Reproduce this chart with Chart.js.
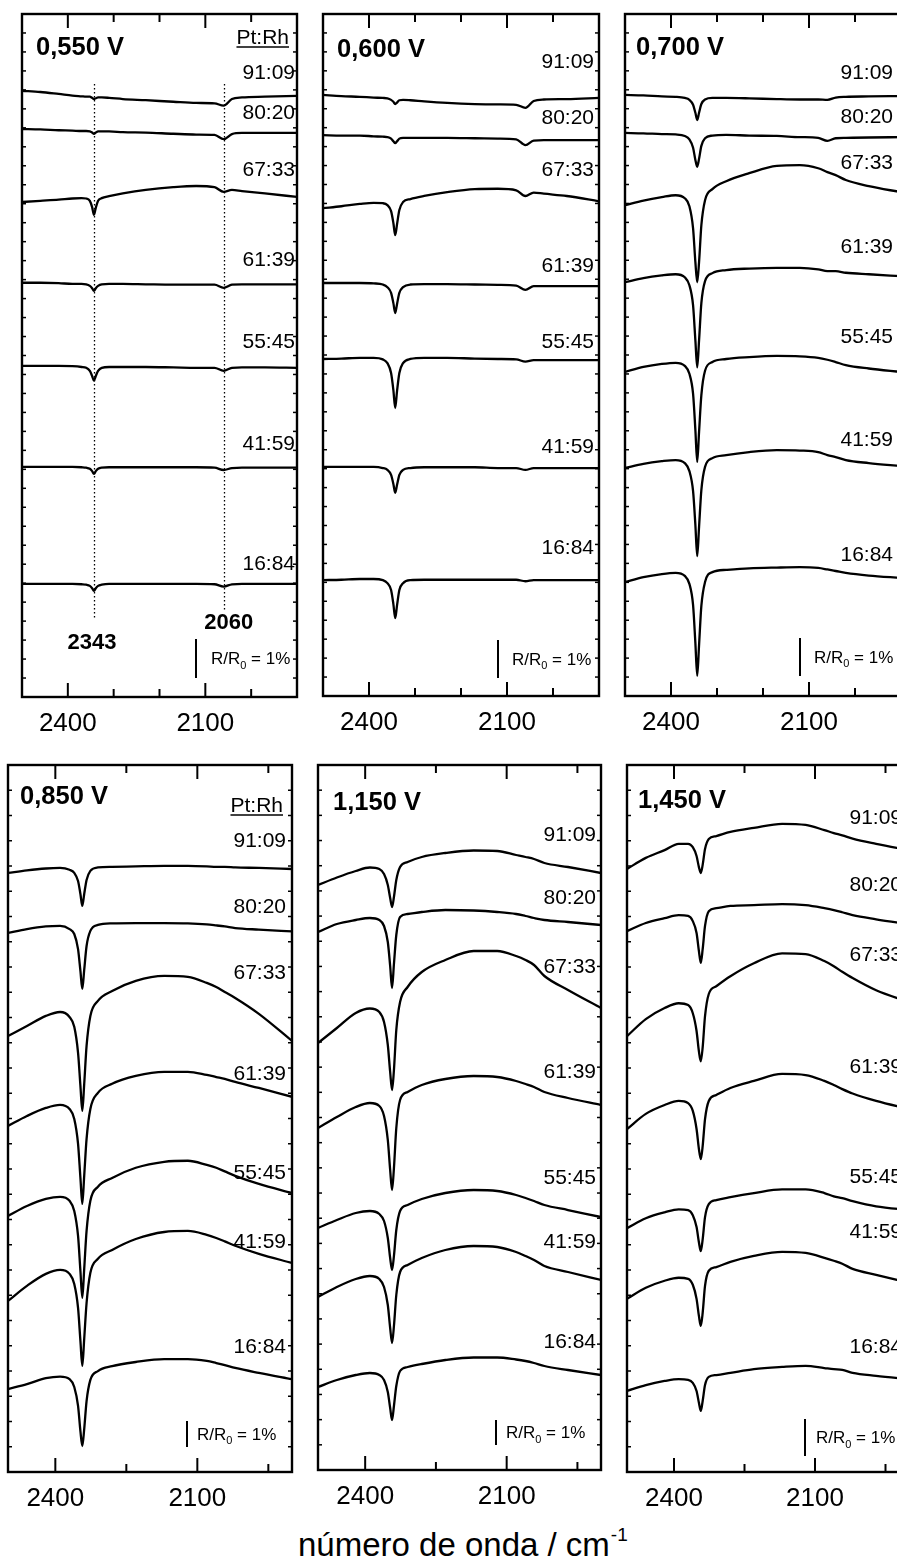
<!DOCTYPE html>
<html lang="pt">
<head>
<meta charset="utf-8">
<title>Espectros FTIR in situ - Pt:Rh</title>
<script src="https://cdn.jsdelivr.net/npm/chart.js@4.4.1/dist/chart.umd.min.js"></script>
<style>
  html, body { margin: 0; padding: 0; background: #fff; }
  body { width: 897px; height: 1559px; overflow: hidden; position: relative;
         font-family: "Liberation Sans", Arial, sans-serif; color: #000; }
  canvas.panel { position: absolute; }
  #xtitle { position: absolute; left: 298px; top: 1528px; font-size: 33px; line-height: 1; white-space: nowrap; }
  #xtitle sup { font-size: 19px; vertical-align: top; position: relative; top: -3px; margin-left: 1px; }
</style>
</head>
<body>
<div id="xtitle">número de onda / cm<sup>-1</sup></div>
<script>
// wavenumber grid shared by every spectrum (cm-1)
const wavenumbers = [2500, 2460, 2420, 2390, 2370, 2360, 2352, 2347, 2343, 2339, 2334, 2326,
                     2310, 2280, 2230, 2170, 2120, 2080, 2060, 2042, 2020, 1970, 1900];
const compositions = ["91:09", "80:20", "67:33", "61:39", "55:45", "41:59", "16:84"];
const potentials = ["0,550 V", "0,600 V", "0,700 V", "0,850 V", "1,150 V", "1,450 V"];
const majorTicks = [2400, 2100];

// stacking offset of each spectrum (R/R0 in %), and the spectrum itself relative to it
const offsets550 = [15.54, 14.56, 12.69, 10.62, 8.49, 5.90, 2.90];
const spectra550 = [
  [0, -0.03, -0.08, -0.12, -0.14, -0.15, -0.15, -0.18, -0.21, -0.19, -0.17, -0.17, -0.18, -0.21, -0.24, -0.28, -0.31, -0.32, -0.38, -0.21, -0.17, -0.15, -0.13],
  [0, -0.01, -0.03, -0.04, -0.05, -0.05, -0.06, -0.09, -0.12, -0.09, -0.06, -0.06, -0.06, -0.08, -0.09, -0.12, -0.14, -0.15, -0.26, -0.13, -0.10, -0.10, -0.10],
  [0, 0.03, 0.06, 0.09, 0.10, 0.09, 0.03, -0.13, -0.33, -0.15, 0.03, 0.10, 0.15, 0.22, 0.31, 0.38, 0.41, 0.38, 0.26, 0.31, 0.28, 0.22, 0.13],
  [0, 0, -0.01, -0.03, -0.03, -0.04, -0.08, -0.14, -0.21, -0.14, -0.08, -0.04, -0.03, -0.03, -0.04, -0.05, -0.05, -0.05, -0.13, -0.05, -0.04, -0.04, -0.04],
  [0, 0, 0, -0.01, -0.03, -0.05, -0.13, -0.26, -0.38, -0.26, -0.13, -0.05, -0.03, -0.03, -0.03, -0.04, -0.05, -0.05, -0.13, -0.05, -0.04, -0.04, -0.05],
  [0, 0, 0, 0, -0.01, -0.02, -0.05, -0.11, -0.18, -0.11, -0.05, -0.02, -0.01, -0.01, -0.01, -0.01, -0.01, -0.02, -0.08, -0.03, -0.02, -0.02, -0.02],
  [0, 0, 0, 0, -0.01, -0.02, -0.05, -0.11, -0.18, -0.11, -0.05, -0.02, 0, 0, 0, 0, 0, -0.01, -0.07, -0.01, 0, 0, 0]
];

const offsets600 = [15.82, 14.76, 12.84, 10.87, 8.87, 6.03, 3.05];
const spectra600 = [
  [0, -0.03, -0.05, -0.07, -0.08, -0.09, -0.13, -0.18, -0.24, -0.20, -0.14, -0.13, -0.14, -0.17, -0.21, -0.24, -0.25, -0.26, -0.34, -0.16, -0.12, -0.11, -0.08],
  [0, -0.01, -0.01, -0.03, -0.04, -0.05, -0.09, -0.16, -0.21, -0.16, -0.09, -0.07, -0.07, -0.07, -0.07, -0.08, -0.09, -0.11, -0.26, -0.14, -0.13, -0.13, -0.13],
  [0, 0.05, 0.11, 0.14, 0.13, 0.08, -0.08, -0.39, -0.71, -0.42, -0.05, 0.16, 0.24, 0.32, 0.42, 0.50, 0.51, 0.47, 0.32, 0.41, 0.38, 0.32, 0.18],
  [0, 0, 0, -0.01, -0.04, -0.11, -0.26, -0.53, -0.79, -0.55, -0.26, -0.11, -0.04, -0.03, -0.03, -0.04, -0.05, -0.07, -0.18, -0.08, -0.08, -0.08, -0.08],
  [0, 0.01, 0.03, 0.03, -0.01, -0.11, -0.37, -0.82, -1.29, -0.84, -0.37, -0.11, 0, 0.03, 0.03, 0.01, 0, -0.01, -0.07, -0.03, -0.03, -0.03, -0.03],
  [0, 0, 0, 0, -0.03, -0.08, -0.21, -0.45, -0.68, -0.47, -0.21, -0.08, -0.03, -0.01, -0.01, -0.01, -0.03, -0.03, -0.08, -0.03, -0.03, -0.03, -0.03],
  [0, 0.01, 0.03, 0.03, 0, -0.08, -0.26, -0.63, -1.00, -0.66, -0.26, -0.08, 0, 0.01, 0.01, 0.01, 0.01, 0.01, -0.03, 0, 0, 0, 0]
];

const offsets700 = [15.82, 14.82, 12.92, 10.89, 8.53, 6.00, 3.00];
const spectra700 = [
  [0, -0.01, -0.04, -0.05, -0.08, -0.13, -0.26, -0.47, -0.66, -0.47, -0.24, -0.12, -0.08, -0.08, -0.09, -0.11, -0.12, -0.12, -0.13, -0.07, -0.05, -0.04, -0.03],
  [0, -0.01, -0.03, -0.04, -0.08, -0.17, -0.39, -0.71, -0.89, -0.68, -0.34, -0.14, -0.07, -0.05, -0.07, -0.08, -0.11, -0.13, -0.21, -0.14, -0.13, -0.12, -0.11],
  [0, 0.12, 0.21, 0.26, 0.18, -0.03, -0.61, -1.50, -2.03, -1.50, -0.53, 0.13, 0.42, 0.63, 0.84, 1.03, 1.05, 0.97, 0.87, 0.79, 0.66, 0.50, 0.34],
  [0, 0.11, 0.18, 0.21, 0.13, -0.08, -0.61, -1.53, -2.24, -1.53, -0.55, 0.03, 0.24, 0.32, 0.36, 0.38, 0.38, 0.34, 0.29, 0.29, 0.25, 0.21, 0.16],
  [0, 0.13, 0.21, 0.24, 0.16, -0.05, -0.58, -1.53, -2.37, -1.58, -0.61, 0.03, 0.26, 0.34, 0.39, 0.42, 0.41, 0.37, 0.32, 0.26, 0.18, 0.09, 0],
  [0, 0.11, 0.18, 0.21, 0.13, -0.08, -0.61, -1.50, -2.32, -1.55, -0.58, 0.03, 0.26, 0.34, 0.42, 0.47, 0.46, 0.42, 0.34, 0.29, 0.21, 0.13, 0.05],
  [0, 0.13, 0.21, 0.24, 0.16, -0.05, -0.61, -1.61, -2.47, -1.66, -0.63, 0, 0.26, 0.32, 0.36, 0.38, 0.39, 0.37, 0.33, 0.29, 0.24, 0.17, 0.11]
];

const offsets850 = [23.04, 20.73, 16.77, 13.31, 9.85, 6.58, 3.19];
const spectra850 = [
  [0, 0.10, 0.17, 0.19, 0.12, 0, -0.31, -0.81, -1.27, -0.81, -0.27, 0.08, 0.21, 0.23, 0.25, 0.27, 0.27, 0.25, 0.23, 0.23, 0.21, 0.19, 0.15],
  [0, 0.15, 0.25, 0.27, 0.15, -0.04, -0.62, -1.46, -2.15, -1.42, -0.50, 0.08, 0.31, 0.37, 0.38, 0.38, 0.37, 0.33, 0.29, 0.25, 0.19, 0.13, 0.06],
  [0, 0.38, 0.77, 0.92, 0.73, 0.35, -0.65, -1.92, -2.88, -1.85, -0.38, 0.77, 1.35, 1.73, 2.12, 2.31, 2.27, 2.04, 1.88, 1.69, 1.46, 0.85, -0.19],
  [0, 0.38, 0.69, 0.81, 0.65, 0.27, -0.69, -2.00, -3.00, -1.92, -0.50, 0.65, 1.27, 1.62, 1.92, 2.08, 2.08, 1.96, 1.88, 1.81, 1.69, 1.46, 1.12],
  [0, 0.38, 0.65, 0.73, 0.58, 0.19, -0.77, -2.12, -3.15, -2.04, -0.58, 0.58, 1.12, 1.46, 1.85, 2.08, 2.12, 1.96, 1.85, 1.71, 1.54, 1.23, 0.88],
  [0, 0.58, 1.04, 1.19, 1.04, 0.65, -0.27, -1.54, -2.50, -1.46, -0.08, 1.08, 1.62, 1.96, 2.38, 2.65, 2.69, 2.54, 2.42, 2.29, 2.12, 1.81, 1.46],
  [0, 0.19, 0.42, 0.48, 0.38, 0.08, -0.65, -1.62, -2.19, -1.54, -0.46, 0.35, 0.69, 0.88, 1.04, 1.15, 1.15, 1.08, 1.00, 0.92, 0.81, 0.62, 0.38]
];

const offsets1150 = [23.40, 21.52, 17.08, 13.68, 9.68, 6.92, 3.32];
const spectra1150 = [
  [0, 0.30, 0.56, 0.70, 0.64, 0.44, 0, -0.52, -0.88, -0.48, 0.20, 0.72, 0.92, 1.12, 1.28, 1.38, 1.36, 1.20, 1.12, 1.04, 0.88, 0.72, 0.48],
  [0, 0.32, 0.48, 0.56, 0.48, 0.24, -0.40, -1.36, -2.24, -1.28, -0.12, 0.60, 0.72, 0.80, 0.88, 0.86, 0.80, 0.72, 0.64, 0.56, 0.48, 0.40, 0.28],
  [0, 0.60, 1.20, 1.38, 1.24, 0.84, -0.08, -1.16, -1.88, -1.08, 0.52, 1.64, 2.24, 2.84, 3.32, 3.68, 3.68, 3.48, 3.32, 3.12, 2.68, 2.12, 1.40],
  [0, 0.44, 0.84, 1.00, 0.88, 0.48, -0.48, -1.68, -2.48, -1.60, 0, 1.12, 1.44, 1.72, 1.96, 2.08, 2.04, 1.88, 1.76, 1.64, 1.44, 1.20, 0.92],
  [0, 0.32, 0.60, 0.68, 0.56, 0.28, -0.40, -1.20, -1.68, -1.12, -0.08, 0.68, 0.92, 1.16, 1.40, 1.52, 1.48, 1.32, 1.20, 1.08, 0.92, 0.72, 0.44],
  [0, 0.40, 0.72, 0.84, 0.72, 0.40, -0.32, -1.24, -1.84, -1.16, 0.08, 1.00, 1.28, 1.56, 1.88, 2.04, 2.00, 1.80, 1.64, 1.48, 1.24, 1.00, 0.68],
  [0, 0.28, 0.48, 0.56, 0.48, 0.28, -0.20, -0.84, -1.32, -0.76, 0.04, 0.64, 0.80, 0.92, 1.08, 1.18, 1.18, 1.10, 1.04, 0.96, 0.84, 0.68, 0.48]
];

const offsets1450 = [16.30, 14.62, 11.78, 9.27, 6.59, 4.68, 2.19];
const spectra1450 = [
  [0, 0.30, 0.51, 0.68, 0.68, 0.59, 0.35, 0.05, -0.11, 0.11, 0.54, 0.81, 0.89, 1.00, 1.11, 1.22, 1.19, 1.05, 0.97, 0.91, 0.82, 0.68, 0.51],
  [0, 0.22, 0.35, 0.43, 0.41, 0.27, -0.05, -0.54, -0.86, -0.49, 0.14, 0.54, 0.62, 0.68, 0.70, 0.73, 0.70, 0.62, 0.57, 0.51, 0.43, 0.32, 0.19],
  [0, 0.46, 0.76, 0.89, 0.84, 0.62, 0.14, -0.41, -0.68, -0.30, 0.54, 1.14, 1.35, 1.62, 1.97, 2.24, 2.22, 2.03, 1.89, 1.74, 1.57, 1.24, 0.92],
  [0, 0.41, 0.65, 0.76, 0.70, 0.49, 0, -0.54, -0.81, -0.46, 0.27, 0.76, 0.92, 1.11, 1.30, 1.49, 1.46, 1.30, 1.19, 1.08, 0.96, 0.76, 0.54],
  [0, 0.27, 0.43, 0.51, 0.49, 0.35, 0.03, -0.38, -0.62, -0.30, 0.30, 0.65, 0.76, 0.84, 0.95, 1.05, 1.05, 0.95, 0.86, 0.81, 0.73, 0.59, 0.49],
  [0, 0.30, 0.49, 0.57, 0.54, 0.38, 0, -0.46, -0.73, -0.38, 0.35, 0.76, 0.86, 1.00, 1.16, 1.27, 1.24, 1.11, 1.03, 0.95, 0.81, 0.65, 0.43],
  [0, 0.16, 0.27, 0.32, 0.30, 0.22, 0, -0.32, -0.54, -0.27, 0.16, 0.38, 0.43, 0.49, 0.59, 0.65, 0.68, 0.62, 0.59, 0.57, 0.49, 0.41, 0.32]
];

const FONT = '"Liberation Sans", Arial, Helvetica, sans-serif';
const PAD = 10;      // room around each frame inside its canvas
const AXIS_H = 50;   // height reserved under the frame for tick labels

// frame geometry [left, top, width, height] and decorations of each panel
const panels = [
  { title: potentials[0], offsets: offsets550, spectra: spectra550, box: [22, 14, 275, 683], yMax: 17.51,
    minor: [2300, 2200, 2000], yTicks: 36, titleAt: [14, 34], labelsY: [59, 99, 156, 246, 328, 430, 550],
    labelInset: 2, bar: [174, 19, 15], ptRh: [8, 24],
    bands: [{ value: 2343, from: 70, to: 606 }, { value: 2060, from: 70, to: 596 }],
    bandText: [{ text: "2343", value: 2343, dx: -2, y: 629 }, { text: "2060", value: 2060, dx: 5, y: 609 }] },
  { title: potentials[1], offsets: offsets600, spectra: spectra600, box: [323, 14, 276, 682], yMax: 17.95,
    minor: [2300, 2200, 2000], yTicks: 36, titleAt: [14, 36], labelsY: [48, 104, 156, 252, 328, 433, 534],
    labelInset: 5, bar: [175, 18, 14] },
  { title: potentials[2], offsets: offsets700, spectra: spectra700, box: [625, 14, 276, 682], yMax: 17.95,
    minor: [2300, 2200, 2000], yTicks: 36, titleAt: [11, 34], labelsY: [59, 103, 149, 233, 323, 426, 541],
    labelInset: 8, bar: [175, 20, 14] },
  { title: potentials[3], offsets: offsets850, spectra: spectra850, box: [8, 765, 284, 707], yMax: 27.19,
    minor: [2250, 1950], yTicks: 28, titleAt: [12, 32], labelsY: [76, 142, 208, 309, 408, 477, 582],
    labelInset: 6, bar: [179, 25, 10], ptRh: [9, 41] },
  { title: potentials[4], offsets: offsets1150, spectra: spectra1150, box: [318, 765, 283, 705], yMax: 28.2,
    minor: [2250, 1950], yTicks: 28, titleAt: [15, 38], labelsY: [70, 133, 202, 307, 413, 477, 577],
    labelInset: 5, bar: [178, 25, 10] },
  { title: potentials[5], offsets: offsets1450, spectra: spectra1450, box: [627, 765, 282, 707], yMax: 19.11,
    minor: [2250, 1950], yTicks: 28, titleAt: [11, 36], labelsY: [53, 120, 190, 302, 412, 467, 582],
    labelInset: 7, bar: [178, 16, 11] }
];

function series(offsets, spectra) {
  return spectra.map((dev, k) => ({
    label: compositions[k],
    data: wavenumbers.map((w, i) => ({ x: w, y: offsets[k] + dev[i] })),
    borderColor: "#000",
    borderWidth: 2.3,
    pointRadius: 0,
    cubicInterpolationMode: "monotone",
    fill: false
  }));
}

function line(ctx, x1, y1, x2, y2) {
  ctx.beginPath();
  ctx.moveTo(x1, y1);
  ctx.lineTo(x2, y2);
  ctx.stroke();
}

// frame, inward ticks, texts and the R/R0 bar, drawn around the spectra
const decor = {
  id: "decor",
  beforeDatasetsDraw(chart, args, o) {
    if (!o.bands) return;
    const { ctx, chartArea: a, scales: { x } } = chart;
    ctx.save();
    ctx.strokeStyle = "#000";
    ctx.lineWidth = 1.3;
    ctx.setLineDash([1.5, 2.5]);
    o.bands.forEach((b) => {
      const px = Math.round(x.getPixelForValue(b.value)) + 0.5;
      line(ctx, px, a.top + b.from, px, a.top + b.to);
    });
    ctx.restore();
  },
  afterDatasetsDraw(chart, args, o) {
    const { ctx, chartArea: a, scales: { x, y } } = chart;
    ctx.save();
    ctx.strokeStyle = "#000";
    ctx.fillStyle = "#000";

    ctx.lineWidth = 2.4;
    ctx.strokeRect(a.left, a.top, a.right - a.left, a.bottom - a.top);

    ctx.lineWidth = 2;
    majorTicks.forEach((v) => {
      const px = x.getPixelForValue(v);
      line(ctx, px, a.bottom, px, a.bottom - 14);
      line(ctx, px, a.top, px, a.top + 14);
    });
    o.minor.forEach((v) => {
      const px = x.getPixelForValue(v);
      line(ctx, px, a.bottom, px, a.bottom - 8);
      line(ctx, px, a.top, px, a.top + 8);
    });
    ctx.lineWidth = 1.5;
    const step = (a.bottom - a.top) / o.yTicks;
    for (let i = 1; i < o.yTicks; i++) {
      const py = a.bottom - i * step;
      line(ctx, a.left, py, a.left + 4, py);
      line(ctx, a.right, py, a.right - 4, py);
    }

    ctx.textBaseline = "middle";
    ctx.textAlign = "left";
    ctx.font = "bold 25.5px " + FONT;
    ctx.fillText(o.title, a.left + o.titleAt[0], a.top + o.titleAt[1]);

    ctx.textAlign = "right";
    ctx.font = "21px " + FONT;
    compositions.forEach((c, k) => {
      ctx.fillText(c, a.right - o.labelInset, a.top + o.labelsY[k]);
    });

    if (o.ptRh) {
      const rx = a.right - o.ptRh[0];
      const ry = a.top + o.ptRh[1];
      ctx.fillText("Pt:Rh", rx, ry);
      const w = ctx.measureText("Pt:Rh").width;
      ctx.lineWidth = 1.5;
      line(ctx, rx - w, ry + 9, rx, ry + 9);
    }

    if (o.bandText) {
      ctx.textAlign = "center";
      ctx.font = "bold 22px " + FONT;
      o.bandText.forEach((t) => {
        ctx.fillText(t.text, x.getPixelForValue(t.value) + t.dx, a.top + t.y);
      });
    }

    // vertical bar worth 1 % of R/R0 on this panel's own scale
    const unit = y.getPixelForValue(0) - y.getPixelForValue(1);
    const bx = a.left + o.bar[0];
    const bBottom = a.bottom - o.bar[1];
    const bTop = bBottom - unit;
    ctx.lineWidth = 2;
    line(ctx, bx, bTop, bx, bBottom);
    let tx = bx + o.bar[2];
    const ty = (bTop + bBottom) / 2 + 1;
    ctx.textAlign = "left";
    ctx.font = "17px " + FONT;
    ctx.fillText("R/R", tx, ty);
    tx += ctx.measureText("R/R").width;
    ctx.font = "11px " + FONT;
    ctx.fillText("0", tx, ty + 6);
    tx += ctx.measureText("0").width;
    ctx.font = "17px " + FONT;
    ctx.fillText(" = 1%", tx, ty);

    ctx.restore();
  }
};

panels.forEach((p) => {
  const [fx, fy, fw, fh] = p.box;
  const canvas = document.createElement("canvas");
  canvas.className = "panel";
  canvas.width = fw + PAD * 2;
  canvas.height = fh + PAD + AXIS_H;
  canvas.style.left = (fx - PAD) + "px";
  canvas.style.top = (fy - PAD) + "px";
  document.body.appendChild(canvas);

  const decorOptions = {
    title: p.title, minor: p.minor, yTicks: p.yTicks, titleAt: p.titleAt, labelsY: p.labelsY,
    labelInset: p.labelInset, bar: p.bar, ptRh: p.ptRh || null,
    bands: p.bands || null, bandText: p.bandText || null
  };

  new Chart(canvas, {
    type: "line",
    data: { datasets: series(p.offsets, p.spectra) },
    options: {
      responsive: false,
      animation: false,
      events: [],
      devicePixelRatio: 1,
      layout: { padding: { left: PAD, right: PAD, top: PAD, bottom: 0 } },
      plugins: {
        legend: { display: false },
        tooltip: { enabled: false },
        decor: decorOptions
      },
      scales: {
        x: {
          type: "linear",
          reverse: true,
          min: 1900,
          max: 2500,
          grid: { display: false, drawTicks: false },
          border: { display: false },
          afterBuildTicks: (axis) => { axis.ticks = majorTicks.map((v) => ({ value: v })); },
          afterFit: (axis) => { axis.height = AXIS_H; },
          ticks: {
            color: "#000",
            padding: 11,
            maxRotation: 0,
            autoSkip: false,
            font: { family: FONT, size: 26 },
            callback: (v) => String(v)
          }
        },
        y: { display: false, min: 0, max: p.yMax }
      }
    },
    plugins: [decor]
  });
});
</script>
</body>
</html>
